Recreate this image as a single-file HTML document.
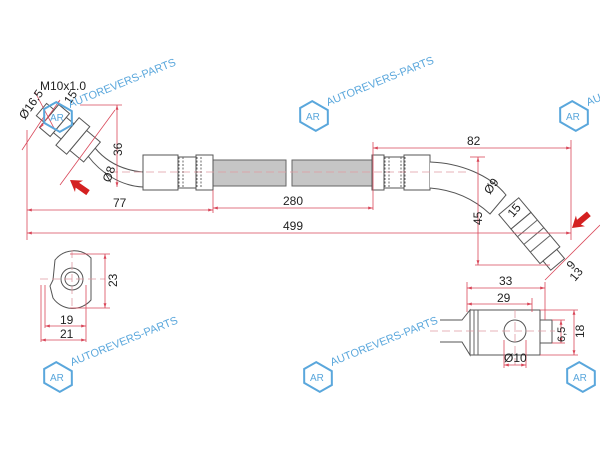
<!DOCTYPE html>
<html><head><meta charset="utf-8"><style>
html,body{margin:0;padding:0;background:#fff;}
svg{display:block;font-family:"Liberation Sans",sans-serif;}
.o{fill:#fff;stroke:#555;stroke-width:1}
.d{stroke:#d9485a;stroke-width:0.8;fill:none}
.c{stroke:#e09aa2;stroke-width:0.8;stroke-dasharray:8 4;fill:none}
.t{font-size:12px;fill:#222}
.w{font-size:11px;fill:#5aa7dc}
.h{fill:none;stroke:#5aa7dc;stroke-width:2}
</style></head><body>
<svg width="600" height="450" viewBox="0 0 600 450">
<defs>
<marker id="a" viewBox="0 0 10 10" refX="10" refY="5" markerWidth="6" markerHeight="6" orient="auto-start-reverse"><path d="M0,2L10,5L0,8z" fill="#d9485a"/></marker>
<g id="logo"><polygon class="h" points="-9,-12 9,-12 16,0 9,12 -9,12 -16,0" transform="rotate(30)"/><text x="-8" y="4" font-size="10" fill="#5aa7dc">AR</text></g>
<polygon id="arr" points="0,0 -11,-7 -9,-3 -22,-3 -22,3 -9,3 -11,7" fill="#d42020"/>
</defs>

<!-- hose -->
<rect x="213" y="160" width="73" height="26" fill="#c6c6c6" stroke="#666"/>
<rect x="292" y="160" width="81" height="26" fill="#c6c6c6" stroke="#666"/>
<!-- left fitting -->
<path class="o" d="M143,172 C120,170 105,160 95,148 L88,156 C100,172 120,186 143,187"/>
<rect class="o" x="143" y="155" width="35" height="35"/>
<rect class="o" x="178" y="157" width="18" height="31"/>
<rect class="o" x="196" y="155" width="17" height="35"/>
<path d="M179,157v31M183,157v31M197,157v31M201,157v31" stroke="#666" stroke-dasharray="2 1.5"/>
<!-- right fitting -->
<rect class="o" x="372" y="155" width="12" height="35"/>
<rect class="o" x="384" y="157" width="20" height="31"/>
<rect class="o" x="404" y="155" width="26" height="35"/>
<path d="M385,157v31M389,157v31M401,157v31M405,157v31" stroke="#666" stroke-dasharray="2 1.5"/>
<path class="o" d="M430,162 C460,163 490,175 506,195 L490,214 C475,200 455,190 430,188"/>
<line class="c" x1="110" y1="172" x2="470" y2="172"/>
<!-- right angled fitting -->
<g transform="translate(512,210) rotate(50)">
<path class="o" d="M-5,-13 L14,-13 L14,13 L-5,13 Z"/>
<rect class="o" x="14" y="-13" width="45" height="26"/>
<path d="M24,-13v26M34,-13v26M44,-13v26" stroke="#666"/>
<rect class="o" x="59" y="-9" width="12" height="18"/>
</g>
<!-- left angled fitting -->
<g transform="translate(92,152) rotate(-140)">
<rect class="o" x="0" y="-13" width="18" height="26"/>
<rect class="o" x="18" y="-18" width="14" height="36"/>
<rect class="o" x="32" y="-10" width="10" height="20"/>
<rect class="o" x="42" y="-15" width="14" height="30"/>
<rect class="o" x="56" y="-8" width="10" height="16"/>
</g>
<line class="d" x1="60" y1="185" x2="115" y2="110"/>
<line class="d" x1="22" y1="150" x2="45" y2="115"/>
<line class="d" x1="40" y1="128" x2="60" y2="100" marker-start="url(#a)" marker-end="url(#a)"/>
<text class="t" x="40" y="90">M10x1.0</text>
<line class="d" x1="35" y1="92" x2="55" y2="130"/>
<text class="t" transform="translate(25,120) rotate(-55)">Ø16.5</text>
<text class="t" transform="translate(70,105) rotate(-55)">15</text>
<use href="#arr" transform="translate(70,180) rotate(-145)"/>
<use href="#arr" transform="translate(572,228) rotate(140)"/>

<!-- dims -->
<line class="d" x1="27" y1="130" x2="27" y2="240"/>
<line class="d" x1="117" y1="105" x2="117" y2="187" marker-start="url(#a)" marker-end="url(#a)"/>
<line class="d" x1="80" y1="105" x2="122" y2="105"/>
<text class="t" transform="translate(122,156) rotate(-90)">36</text>
<text class="t" transform="translate(110,183) rotate(-70)">Ø8</text>
<line class="d" x1="213" y1="190" x2="213" y2="213"/>
<line class="d" x1="27" y1="210" x2="213" y2="210" marker-start="url(#a)" marker-end="url(#a)"/>
<text class="t" x="113" y="207">77</text>
<line class="d" x1="373" y1="142" x2="373" y2="210"/>
<line class="d" x1="213" y1="208" x2="373" y2="208" marker-start="url(#a)" marker-end="url(#a)"/>
<text class="t" x="283" y="205">280</text>
<line class="d" x1="27" y1="233" x2="571" y2="233" marker-start="url(#a)" marker-end="url(#a)"/>
<text class="t" x="283" y="230">499</text>
<line class="d" x1="571" y1="140" x2="571" y2="240"/>
<line class="d" x1="373" y1="148" x2="571" y2="148" marker-start="url(#a)" marker-end="url(#a)"/>
<text class="t" x="467" y="145">82</text>
<line class="d" x1="478" y1="157" x2="478" y2="265" marker-start="url(#a)" marker-end="url(#a)"/>
<line class="d" x1="470" y1="157" x2="485" y2="157"/>
<line class="d" x1="475" y1="265" x2="550" y2="265"/>
<text class="t" transform="translate(482,225) rotate(-90)">45</text>
<text class="t" transform="translate(490,195) rotate(-55)">Ø9</text>
<text class="t" transform="translate(513,218) rotate(-50)">15</text>
<line class="d" x1="545" y1="280" x2="600" y2="225"/>
<text class="t" transform="translate(572,270) rotate(-50)">9</text>
<text class="t" transform="translate(575,282) rotate(-50)">13</text>

<!-- bottom left -->
<path class="o" d="M55,260 A24,24 0 0 1 91,258 L91,300 A24,24 0 0 1 53,298 L50,286 L53,280 Z"/>
<circle class="o" cx="72" cy="279" r="11"/><circle class="o" cx="72" cy="279" r="7"/>
<line class="c" x1="40" y1="279" x2="105" y2="279"/><line class="c" x1="72" y1="250" x2="72" y2="310"/>
<line class="d" x1="70" y1="254" x2="110" y2="254"/><line class="d" x1="70" y1="308" x2="110" y2="308"/>
<line class="d" x1="105" y1="254" x2="105" y2="308" marker-start="url(#a)" marker-end="url(#a)"/>
<text class="t" transform="translate(117,287) rotate(-90)">23</text>
<line class="d" x1="41" y1="285" x2="41" y2="342"/><line class="d" x1="45" y1="285" x2="45" y2="328"/><line class="d" x1="86" y1="285" x2="86" y2="342"/>
<line class="d" x1="45" y1="326" x2="86" y2="326" marker-start="url(#a)" marker-end="url(#a)"/>
<line class="d" x1="41" y1="340" x2="86" y2="340" marker-start="url(#a)" marker-end="url(#a)"/>
<text class="t" x="60" y="324">19</text><text class="t" x="60" y="338">21</text>

<!-- bottom right -->
<path class="o" d="M440,320 L462,320 L470,310 L470,355 L462,342 L440,342"/>
<rect class="o" x="470" y="310" width="70" height="45"/>
<path d="M474,310v45M478,310v45" stroke="#666"/>
<rect class="o" x="540" y="320" width="12" height="23"/>
<circle class="o" cx="515" cy="331" r="11"/>
<line class="c" x1="430" y1="331" x2="555" y2="331"/><line class="c" x1="515" y1="310" x2="515" y2="365"/>
<line class="d" x1="467" y1="282" x2="467" y2="312"/><line class="d" x1="545" y1="282" x2="545" y2="320"/><line class="d" x1="532" y1="298" x2="532" y2="312"/>
<line class="d" x1="467" y1="288" x2="545" y2="288" marker-start="url(#a)" marker-end="url(#a)"/>
<line class="d" x1="467" y1="304" x2="532" y2="304" marker-start="url(#a)" marker-end="url(#a)"/>
<text class="t" x="499" y="285">33</text><text class="t" x="497" y="302">29</text>
<line class="d" x1="540" y1="310" x2="578" y2="310"/><line class="d" x1="540" y1="355" x2="578" y2="355"/>
<line class="d" x1="552" y1="320" x2="565" y2="320"/><line class="d" x1="552" y1="343" x2="565" y2="343"/>
<line class="d" x1="561" y1="320" x2="561" y2="343" marker-start="url(#a)" marker-end="url(#a)"/>
<line class="d" x1="574" y1="310" x2="574" y2="355" marker-start="url(#a)" marker-end="url(#a)"/>
<text font-size="11" fill="#222" transform="translate(565,342) rotate(-90)">6,5</text>
<text class="t" transform="translate(584,338) rotate(-90)">18</text>
<line class="d" x1="504" y1="340" x2="504" y2="368"/><line class="d" x1="526" y1="340" x2="526" y2="368"/>
<line class="d" x1="504" y1="365" x2="526" y2="365" marker-start="url(#a)" marker-end="url(#a)"/>
<text class="t" x="504" y="362">Ø10</text>

<!-- watermarks -->
<use href="#logo" x="58" y="117"/><text class="w" transform="translate(70,108) rotate(-22)">AUTOREVERS-PARTS</text>
<use href="#logo" x="314" y="116"/><text class="w" transform="translate(328,106) rotate(-22)">AUTOREVERS-PARTS</text>
<use href="#logo" x="574" y="116"/><text class="w" transform="translate(588,106) rotate(-22)">AU</text>
<use href="#logo" x="58" y="377"/><text class="w" transform="translate(72,366) rotate(-22)">AUTOREVERS-PARTS</text>
<use href="#logo" x="318" y="377"/><text class="w" transform="translate(332,366) rotate(-22)">AUTOREVERS-PARTS</text>
<use href="#logo" x="581" y="377"/>
</svg>
</body></html>
